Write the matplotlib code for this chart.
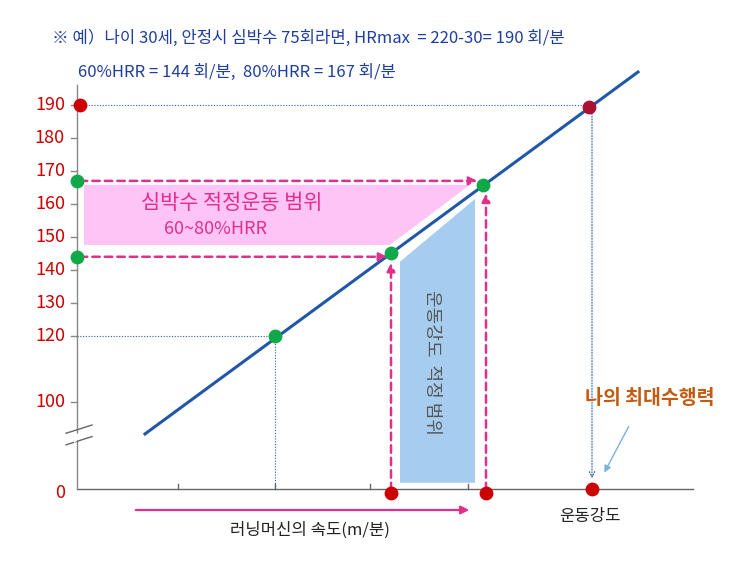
import matplotlib
matplotlib.use("Agg")
import matplotlib.pyplot as plt
from matplotlib.patches import Polygon, FancyArrowPatch

plt.rcParams['font.family'] = ['Noto Sans CJK KR', 'DejaVu Sans']

W, H = 743, 566
yticks = [100, 120, 130, 140, 150, 160, 170, 180, 190]
ZERO = 72.4          # plotting position for the broken-axis "0"
AXIS_Y = 73.6
line_speed = [68, 561]
line_hr = [90.3, 200]
pt_speed = [198, 314, 406]
pt_hr = [120, 145, 165.7]
max_speed, max_hr = 512, 189.3
hrr_low, hrr_high = 144, 167

def px(x, y):
    return x / W, 1 - y / H

fig = plt.figure(figsize=(W/100, H/100), dpi=100)
ax = fig.add_axes([77/W, 1-493/H, 616/W, (493-60)/H])
ax.set_xlim(0, 616)
ax.set_ylim(ZERO, 100 + 342/3.3)
ax.axis('off')

blue = '#2a5caa'; mag = '#e0308a'; red = '#cc0000'; green = '#11a84a'

# regions
ax.add_patch(Polygon([(7, 165.8), (393, 165.8), (313, 147.6), (7, 147.6)],
                     closed=True, color='#ffc4f6', lw=0, zorder=1))
ax.add_patch(Polygon([(323, 142.5), (398, 161.5), (398, 75.5), (323, 75.5)],
                     closed=True, color='#a6cdef', lw=0, zorder=1))

# axes
ax.plot([0, 616], [AXIS_Y, AXIS_Y], color='#666666', lw=1, clip_on=False)
ax.plot([0, 0], [AXIS_Y, 196], color='#888888', lw=1, clip_on=False)
for v in yticks:
    ax.plot([-6, 0], [v, v], color='#888888', lw=1, clip_on=False)
for u in [101, 198, 293, 391]:
    ax.plot([u, u], [AXIS_Y, AXIS_Y+1.5], color='#666666', lw=1)
for yb in [91.5, 88]:
    ax.plot([-11, 15], [yb-1, yb+1.5], color='#666666', lw=1, clip_on=False)
    ax.plot([-11, 15], [yb-1, yb+1.5], color='white', lw=0) 
ax.add_patch(Polygon([(-3, 87.5), (5, 89.5), (5, 91.5), (-3, 89.5)], color='white', lw=0, zorder=3, clip_on=False))

# dotted guides
ax.plot([3, max_speed], [190, 190], color=blue, lw=0.8, ls=(0, (1, 1.5)))
ax.plot([0, pt_speed[0]], [120, 120], color=blue, lw=0.8, ls=(0, (1, 1.5)))
ax.plot([pt_speed[0], pt_speed[0]], [AXIS_Y, 120], color=blue, lw=0.8, ls=(0, (1, 1.5)))
ax.add_patch(FancyArrowPatch((max_speed+3, 190), (max_speed+3, 76), arrowstyle='->', mutation_scale=10,
                             color=blue, lw=0.8, ls=(0, (1, 1.5))))

# main line
ax.plot(line_speed, line_hr, color='#2157a8', lw=2.2, zorder=4)

# dashed arrows
kw = dict(arrowstyle='-|>', mutation_scale=12, color=mag, lw=1.8, ls=(0, (3, 2)), zorder=5)
ax.add_patch(FancyArrowPatch((0, hrr_low), (313, hrr_low), **kw))
ax.add_patch(FancyArrowPatch((0, hrr_high), (403, hrr_high), **kw))
ax.add_patch(FancyArrowPatch((314, ZERO), (314, 143), **kw))
ax.add_patch(FancyArrowPatch((409, ZERO), (409, 164), **kw))

# dots
ax.scatter(pt_speed, pt_hr, s=80, color=green, zorder=6)
ax.scatter([0, 0], [hrr_high, hrr_low], s=80, color=green, zorder=6, clip_on=False)
ax.scatter([3], [190], s=80, color=red, zorder=6, clip_on=False)
ax.scatter([max_speed], [max_hr], s=80, color='#aa1133', zorder=6)
ax.scatter([314, 409, 515], [ZERO, ZERO, AXIS_Y], s=80, color=red, zorder=6, clip_on=False)

# tick labels
for v in yticks:
    ax.text(-12, v, str(v), color=red, fontsize=13, ha='right', va='center', clip_on=False)
ax.text(-12, ZERO, '0', color=red, fontsize=13, ha='right', va='center', clip_on=False)

# texts
hc = '#1f3fa0'
fig.text(*px(52, 38), '※ 예）나이 30세, 안정시 심박수 75회라면, HRmax  = 220-30= 190 회/분',
         color=hc, fontsize=12, va='center')
fig.text(*px(78, 72), '60%HRR = 144 회/분,  80%HRR = 167 회/분', color=hc, fontsize=12, va='center')
fig.text(*px(232, 203), '심박수 적정운동 범위', color=mag, fontsize=15, ha='center', va='center')
fig.text(*px(215, 229), '60~80%HRR', color=mag, fontsize=13, ha='center', va='center')
fig.text(*px(432, 362), '운동강도  적정 범위', color='#555555', fontsize=13, ha='center', va='center',
         rotation=-90)
fig.text(*px(650, 398), '나의 최대수행력', color='#c55a11', fontsize=14, fontweight='bold', ha='center', va='center')
fig.text(*px(310, 530), '러닝머신의 속도(m/분)', color='#222222', fontsize=12, ha='center', va='center')
fig.text(*px(590, 517), '운동강도', color='#222222', fontsize=12, ha='center', va='center')

fig.add_artist(FancyArrowPatch(px(630, 424), px(603, 475), transform=fig.transFigure,
                               arrowstyle='-|>', mutation_scale=10, color='#7ab0e0', lw=1))
fig.add_artist(FancyArrowPatch(px(133, 510), px(472, 510), transform=fig.transFigure,
                               arrowstyle='-|>', mutation_scale=12, color=mag, lw=1.6))

fig.savefig('out.png', dpi=100, facecolor='white')
